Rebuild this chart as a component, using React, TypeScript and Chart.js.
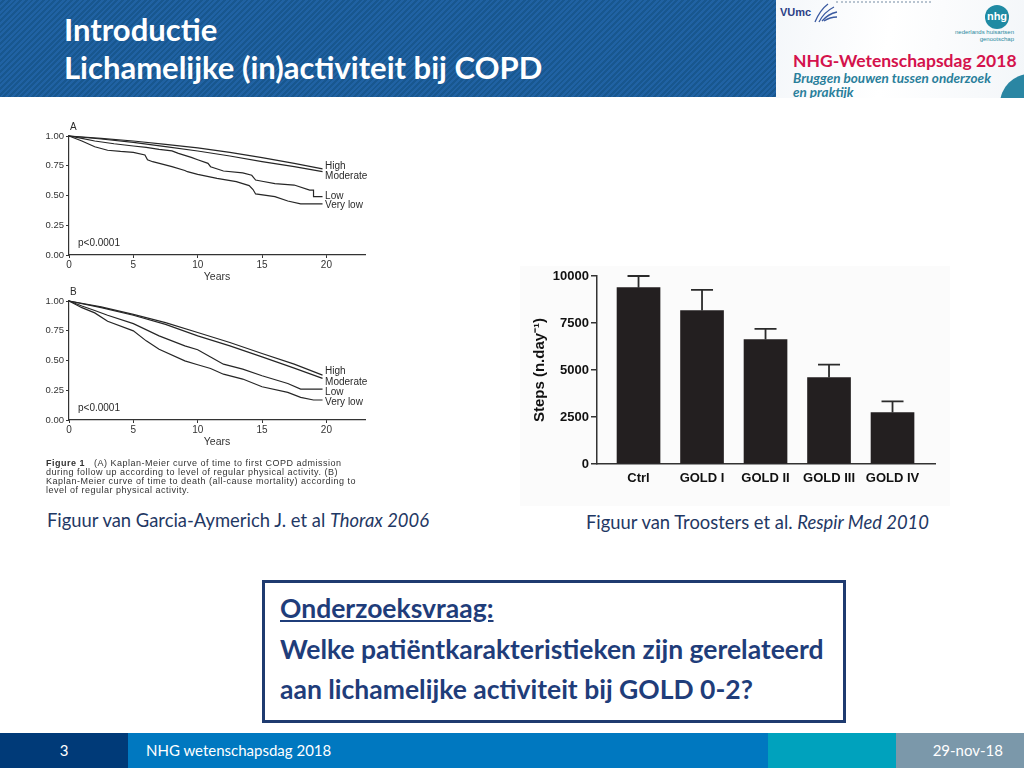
import React, { useEffect, useRef } from "react";
import { Chart, registerables } from "chart.js";

Chart.register(...registerables);

// ---------- Bar chart (Troosters et al.) ----------
const barCategories = ["Ctrl", "GOLD I", "GOLD II", "GOLD III", "GOLD IV"];
const stepsMean = [9380, 8160, 6620, 4600, 2740];
const stepsError = [620, 1100, 570, 690, 590];
const stepsTicks = [0, 2500, 5000, 7500, 10000];
const stepsTitle = "Steps (n.day\u207B\u00B9)";

// ---------- Kaplan-Meier panels (Garcia-Aymerich et al.) ----------
const kmGroupLabels = ["High", "Moderate", "Low", "Very low"];
const kmXTicks = [0, 5, 10, 15, 20];
const kmYTicks = [0, 0.25, 0.5, 0.75, 1];
const kmPValue = "p<0.0001";

// Panel A: time to first COPD admission
const kmAHighT = [0, 2.5, 5, 7.5, 10, 12.5, 15, 17.5, 19.7];
const kmAHighS = [1, 0.98, 0.958, 0.93, 0.9, 0.863, 0.818, 0.77, 0.723];
const kmAModT = [0, 2.5, 5, 7.5, 10, 12.5, 15, 17.5, 19.7];
const kmAModS = [1, 0.975, 0.947, 0.91, 0.874, 0.832, 0.784, 0.742, 0.7];
const kmALowT = [0, 1, 2, 3.5, 5, 6, 7, 8, 8.5, 9.5, 10, 10.8, 11, 12, 13.5, 14.2, 14.5, 15, 16, 17.5, 18.7, 19, 19, 19.7];
const kmALowS = [1, 0.98, 0.958, 0.935, 0.916, 0.905, 0.888, 0.875, 0.854, 0.82, 0.8, 0.77, 0.742, 0.706, 0.69, 0.67, 0.63, 0.62, 0.6, 0.588, 0.546, 0.546, 0.49, 0.49];
const kmAVeryLowT = [0, 1, 2, 3, 4, 5, 5.9, 6.1, 6.5, 8, 9, 9.2, 10, 11.5, 13, 14, 14.3, 14.5, 16, 17, 18, 19.7];
const kmAVeryLowS = [1, 0.958, 0.91, 0.88, 0.87, 0.863, 0.84, 0.8, 0.784, 0.742, 0.71, 0.7, 0.678, 0.644, 0.616, 0.583, 0.55, 0.513, 0.49, 0.454, 0.43, 0.43];
const kmALabelY = [0.748, 0.664, 0.49, 0.415];

// Panel B: time to death
const kmBHighT = [0, 2.5, 5, 7.5, 10, 12.5, 15, 17.5, 19.7];
const kmBHighS = [1, 0.95, 0.888, 0.818, 0.735, 0.651, 0.559, 0.469, 0.377];
const kmBModT = [0, 2.5, 5, 7.5, 10, 12.5, 15, 17.5, 19.7];
const kmBModS = [1, 0.944, 0.88, 0.804, 0.707, 0.623, 0.53, 0.436, 0.35];
const kmBLowT = [0, 1, 2, 3, 5, 7, 9, 10, 11, 12, 13.5, 15, 17, 18, 19.7];
const kmBLowS = [1, 0.958, 0.92, 0.88, 0.81, 0.707, 0.623, 0.59, 0.53, 0.469, 0.427, 0.372, 0.307, 0.26, 0.26];
const kmBVeryLowT = [0, 1, 2, 3, 5, 6, 7, 9, 10, 11, 12, 13.5, 15, 17, 18, 19, 19.7];
const kmBVeryLowS = [1, 0.944, 0.9, 0.83, 0.749, 0.665, 0.595, 0.497, 0.464, 0.433, 0.385, 0.344, 0.279, 0.232, 0.19, 0.168, 0.168];
const kmBLabelY = [0.408, 0.321, 0.232, 0.148];

const FIG_FONT = "'Liberation Sans', Arial, sans-serif";
const SLIDE_FONT = "Lato, 'Open Sans', sans-serif";

function toPoints(t: number[], s: number[]) {
  return t.map((x, i) => ({ x, y: s[i] }));
}

type KMProps = {
  curves: { t: number[]; s: number[] }[];
  labelY: number[];
  letter: string;
  left: number;
  top: number;
};

function KMChart({ curves, labelY, letter, left, top }: KMProps) {
  const ref = useRef<HTMLCanvasElement | null>(null);
  useEffect(() => {
    if (!ref.current) return;
    const annot = {
      id: "kmAnnot",
      afterDraw(chart: any) {
        const { ctx } = chart;
        const xs = chart.scales.x;
        const ys = chart.scales.y;
        ctx.save();
        ctx.fillStyle = "#2a2a2a";
        ctx.font = `10px ${FIG_FONT}`;
        ctx.textBaseline = "middle";
        ctx.textAlign = "left";
        kmGroupLabels.forEach((lab, i) => {
          ctx.fillText(lab, xs.getPixelForValue(19.9), ys.getPixelForValue(labelY[i]));
        });
        ctx.fillText(kmPValue, xs.getPixelForValue(0.7), ys.getPixelForValue(0.1));
        ctx.fillText(letter, chart.chartArea.left + 1, chart.chartArea.top - 9);
        ctx.restore();
      },
    };
    const chart = new Chart(ref.current, {
      type: "line",
      data: {
        datasets: curves.map((c) => ({
          data: toPoints(c.t, c.s),
          borderColor: "#262626",
          borderWidth: 1.2,
          pointRadius: 0,
          tension: 0,
          clip: false as any,
        })),
      },
      options: {
        responsive: false,
        animation: false,
        events: [],
        layout: { padding: { top: 21, right: 15, left: 0, bottom: 0 } },
        plugins: { legend: { display: false }, tooltip: { enabled: false } },
        scales: {
          x: {
            type: "linear",
            min: 0,
            max: 23,
            afterBuildTicks: (s: any) => {
              s.ticks = kmXTicks.map((v) => ({ value: v }));
            },
            afterFit: (s: any) => {
              s.height = 30;
            },
            grid: { drawOnChartArea: false, drawTicks: true, tickLength: 3, color: "#333" },
            border: { color: "#333", width: 1.2 },
            ticks: { padding: 1, color: "#333", maxRotation: 0, font: { size: 10, family: FIG_FONT } },
            title: {
              display: true,
              text: "Years",
              color: "#333",
              font: { size: 10.5, family: FIG_FONT },
              padding: { top: 0, bottom: 2 },
            },
          },
          y: {
            type: "linear",
            min: 0,
            max: 1,
            afterBuildTicks: (s: any) => {
              s.ticks = kmYTicks.map((v) => ({ value: v }));
            },
            afterFit: (s: any) => {
              s.width = 29;
            },
            grid: { drawOnChartArea: false, drawTicks: true, tickLength: 3, color: "#333" },
            border: { color: "#333", width: 1.2 },
            ticks: {
              padding: 2,
              color: "#333",
              font: { size: 9.5, family: FIG_FONT },
              callback: (v: any) => Number(v).toFixed(2),
            },
          },
        },
      },
      plugins: [annot],
    } as any);
    return () => chart.destroy();
  }, []);
  return (
    <canvas
      ref={ref}
      width={340}
      height={170}
      style={{ position: "absolute", left, top, width: 340, height: 170 }}
    />
  );
}

function StepsChart() {
  const ref = useRef<HTMLCanvasElement | null>(null);
  useEffect(() => {
    if (!ref.current) return;
    const errorBars = {
      id: "errorBars",
      afterDatasetsDraw(chart: any) {
        const { ctx } = chart;
        const xs = chart.scales.x;
        const ys = chart.scales.y;
        ctx.save();
        ctx.strokeStyle = "#2b2b2b";
        ctx.lineWidth = 1.8;
        stepsMean.forEach((m, i) => {
          const x = xs.getPixelForValue(i);
          const y0 = ys.getPixelForValue(m);
          const y1 = ys.getPixelForValue(m + stepsError[i]);
          ctx.beginPath();
          ctx.moveTo(x, y0);
          ctx.lineTo(x, y1);
          ctx.moveTo(x - 11, y1);
          ctx.lineTo(x + 11, y1);
          ctx.stroke();
        });
        ctx.restore();
      },
    };
    const chart = new Chart(ref.current, {
      type: "bar",
      data: {
        datasets: [
          {
            data: stepsMean.map((v, i) => ({ x: i, y: v })),
            backgroundColor: "#231f20",
            barThickness: 43,
          },
        ],
      },
      options: {
        responsive: false,
        animation: false,
        events: [],
        layout: { padding: { top: 14, right: 15, left: 0, bottom: 0 } },
        plugins: { legend: { display: false }, tooltip: { enabled: false } },
        scales: {
          x: {
            type: "linear",
            offset: false,
            min: -0.654,
            max: 4.669,
            afterBuildTicks: (s: any) => {
              s.ticks = barCategories.map((_, i) => ({ value: i }));
            },
            afterFit: (s: any) => {
              s.height = 43;
            },
            grid: { display: false, drawTicks: false, offset: false },
            border: { color: "#333", width: 1.5 },
            ticks: {
              padding: 7,
              color: "#111",
              maxRotation: 0,
              autoSkip: false,
              font: { size: 13, weight: "bold", family: FIG_FONT },
              callback: (v: any) => barCategories[Math.round(Number(v))],
            },
          },
          y: {
            type: "linear",
            min: 0,
            max: 10000,
            afterBuildTicks: (s: any) => {
              s.ticks = stepsTicks.map((v) => ({ value: v }));
            },
            afterFit: (s: any) => {
              s.width = 77;
            },
            grid: { drawOnChartArea: false, drawTicks: true, tickLength: 6, color: "#333", lineWidth: 1.5 },
            border: { color: "#333", width: 1.5 },
            ticks: {
              padding: 2,
              color: "#111",
              font: { size: 13, weight: "bold", family: FIG_FONT },
              callback: (v: any) => String(v),
            },
            title: {
              display: true,
              text: stepsTitle,
              color: "#111",
              font: { size: 15, weight: "bold", family: FIG_FONT },
              padding: { top: 11, bottom: 0 },
            },
          },
        },
      },
      plugins: [errorBars],
    } as any);
    return () => chart.destroy();
  }, []);
  return (
    <canvas
      ref={ref}
      width={430}
      height={245}
      style={{ position: "absolute", left: 520, top: 262, width: 430, height: 245 }}
    />
  );
}

const abs = (l: number, t: number, extra: React.CSSProperties = {}): React.CSSProperties => ({
  position: "absolute",
  left: l,
  top: t,
  whiteSpace: "nowrap",
  ...extra,
});

export default function App() {
  return (
    <div
      style={{
        position: "absolute",
        left: 0,
        top: 0,
        width: 1024,
        height: 768,
        overflow: "hidden",
        background: "#ffffff",
        fontFamily: SLIDE_FONT,
      }}
    >
      {/* Header band */}
      <div
        style={{
          position: "absolute",
          left: 0,
          top: 0,
          width: 1024,
          height: 97,
          background:
            "repeating-linear-gradient(135deg, #2062a3 0px, #2062a3 2px, #18578f 2px, #18578f 4px)",
        }}
      />
      <div style={abs(64, 10, { color: "#fff", fontWeight: 700, fontSize: 31, lineHeight: "38px" })}>
        Introductie
        <br />
        Lichamelijke (in)activiteit bij COPD
      </div>

      {/* Logo box */}
      <div
        style={{
          position: "absolute",
          left: 776,
          top: 0,
          width: 248,
          height: 98,
          background: "linear-gradient(100deg, #f4f7fa 0%, #ffffff 45%, #f3f6f9 100%)",
          overflow: "hidden",
        }}
      >
        <div style={abs(4, 6, { fontSize: 11, fontWeight: 700, color: "#2b3f86", fontFamily: FIG_FONT })}>VUmc</div>
        <svg style={{ position: "absolute", left: 36, top: 2 }} width="26" height="22" viewBox="0 0 26 22">
          <path d="M3 20 Q8 8 16 2" stroke="#3a5aa0" strokeWidth="1.3" fill="none" />
          <path d="M7 20 Q12 10 22 5" stroke="#3a5aa0" strokeWidth="1.3" fill="none" />
          <path d="M10 19 Q16 12 25 10" stroke="#3a5aa0" strokeWidth="1.3" fill="none" />
          <path d="M12 19 Q18 15 25 15" stroke="#3a5aa0" strokeWidth="1.3" fill="none" />
        </svg>
        <div style={{ position: "absolute", left: 60, top: 1, width: 95, borderTop: "2px dotted #b8c4d0" }} />
        <div
          style={{
            position: "absolute",
            left: 209,
            top: 5,
            width: 24,
            height: 24,
            borderRadius: 12,
            background: "#1f8aa3",
            color: "#fff",
            fontSize: 11,
            fontWeight: 700,
            textAlign: "center",
            lineHeight: "22px",
            fontFamily: FIG_FONT,
          }}
        >
          nhg
        </div>
        <div
          style={abs(150, 29, {
            width: 88,
            textAlign: "right",
            fontSize: 6,
            lineHeight: "7px",
            color: "#2a8aa0",
            fontFamily: FIG_FONT,
          })}
        >
          nederlands huisartsen
          <br />
          genootschap
        </div>
        <div style={abs(17, 50, { fontSize: 17.5, fontWeight: 700, color: "#d4124c", lineHeight: "22px" })}>
          NHG-Wetenschapsdag 2018
        </div>
        <div
          style={abs(17, 71, {
            fontSize: 13.5,
            fontWeight: 700,
            fontStyle: "italic",
            color: "#2a7f9b",
            lineHeight: "14px",
          })}
        >
          Bruggen bouwen tussen onderzoek
          <br />
          en praktijk
        </div>
        <div
          style={{
            position: "absolute",
            left: 224,
            top: 74,
            width: 60,
            height: 60,
            borderRadius: 30,
            background: "#2a86a3",
          }}
        />
      </div>

      {/* Kaplan-Meier panels */}
      <KMChart
        left={40}
        top={115}
        letter="A"
        labelY={kmALabelY}
        curves={[
          { t: kmAHighT, s: kmAHighS },
          { t: kmAModT, s: kmAModS },
          { t: kmALowT, s: kmALowS },
          { t: kmAVeryLowT, s: kmAVeryLowS },
        ]}
      />
      <KMChart
        left={40}
        top={280}
        letter="B"
        labelY={kmBLabelY}
        curves={[
          { t: kmBHighT, s: kmBHighS },
          { t: kmBModT, s: kmBModS },
          { t: kmBLowT, s: kmBLowS },
          { t: kmBVeryLowT, s: kmBVeryLowS },
        ]}
      />
      <div
        style={abs(46, 459, {
          fontFamily: FIG_FONT,
          fontSize: 9,
          letterSpacing: "0.5px",
          lineHeight: "9px",
          color: "#333",
        })}
      >
        <b>Figure 1</b>&nbsp;&nbsp; (A) Kaplan-Meier curve of time to first COPD admission
        <br />
        during follow up according to level of regular physical activity. (B)
        <br />
        Kaplan-Meier curve of time to death (all-cause mortality) according to
        <br />
        level of regular physical activity.
      </div>
      <div style={abs(47, 509, { fontSize: 18.4, color: "#1f3864", lineHeight: "22px" })}>
        Figuur van Garcia-Aymerich J. et al <i>Thorax 2006</i>
      </div>

      {/* Steps bar chart */}
      <div style={{ position: "absolute", left: 520, top: 266, width: 430, height: 240, background: "#fbfbfb" }} />
      <StepsChart />
      <div style={abs(586, 511, { fontSize: 18.4, color: "#1f3864", lineHeight: "22px" })}>
        Figuur van Troosters et al. <i>Respir Med 2010</i>
      </div>

      {/* Research question box */}
      <div
        style={{
          position: "absolute",
          left: 262,
          top: 580,
          width: 578,
          height: 137,
          border: "3px solid #1f3b70",
        }}
      />
      <div
        style={abs(280, 588, {
          fontSize: 26.5,
          fontWeight: 700,
          color: "#1f3d7a",
          lineHeight: "40.5px",
        })}
      >
        <span style={{ textDecoration: "underline" }}>Onderzoeksvraag:</span>
        <br />
        Welke patiëntkarakteristieken zijn gerelateerd
        <br />
        aan lichamelijke activiteit bij GOLD 0-2?
      </div>

      {/* Footer */}
      <div style={{ position: "absolute", left: 0, top: 733, width: 128, height: 35, background: "#003a78" }} />
      <div style={{ position: "absolute", left: 128, top: 733, width: 640, height: 35, background: "#0078c0" }} />
      <div style={{ position: "absolute", left: 768, top: 733, width: 128, height: 35, background: "#00a2bd" }} />
      <div style={{ position: "absolute", left: 896, top: 733, width: 128, height: 35, background: "#7b98aa" }} />
      <div style={abs(0, 741, { width: 128, textAlign: "center", color: "#fff", fontSize: 15, lineHeight: "18px" })}>3</div>
      <div style={abs(146, 741, { color: "#fff", fontSize: 15, lineHeight: "18px" })}>NHG wetenschapsdag 2018</div>
      <div style={abs(896, 741, { width: 107, textAlign: "right", color: "#fff", fontSize: 15, lineHeight: "18px" })}>
        29-nov-18
      </div>
    </div>
  );
}
